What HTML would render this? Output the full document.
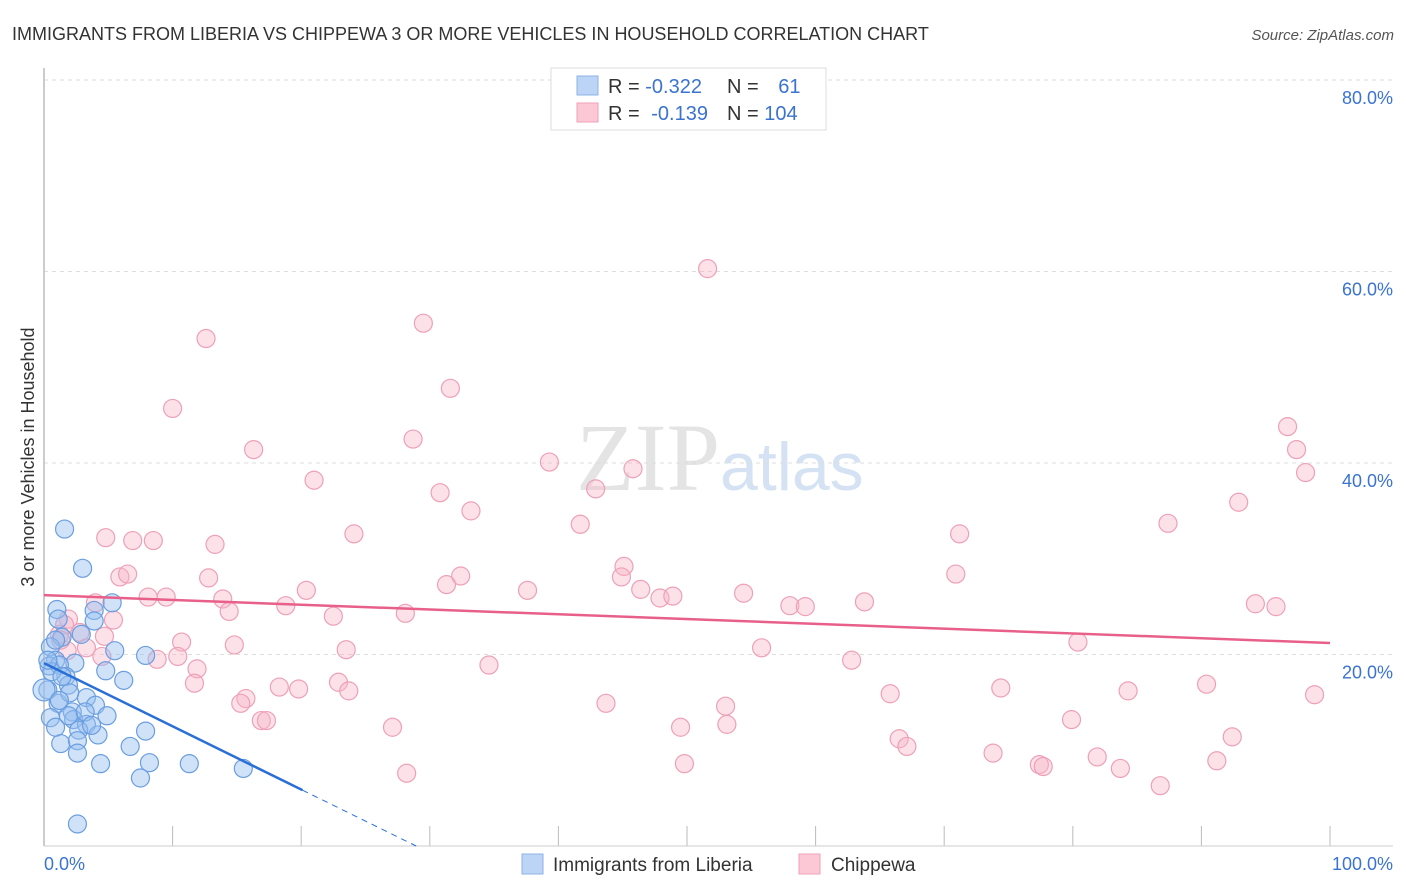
<!DOCTYPE html>
<html><head><meta charset="utf-8"><style>
body{margin:0;background:#fff;font-family:"Liberation Sans",sans-serif;}
#wrap{position:relative;width:1406px;height:892px;overflow:hidden;}
</style></head><body>
<div id="wrap">
<svg id="svg" width="1406" height="892" xmlns="http://www.w3.org/2000/svg">
<text x="12" y="40" font-size="18" fill="#333">IMMIGRANTS FROM LIBERIA VS CHIPPEWA 3 OR MORE VEHICLES IN HOUSEHOLD CORRELATION CHART</text>
<text x="1394" y="40" font-size="15" fill="#555" font-style="italic" text-anchor="end">Source: ZipAtlas.com</text>
<text x="720" y="490" font-size="96" fill="#e4e4e4" text-anchor="end" font-family="Liberation Serif,serif">ZIP</text>
<text x="720" y="490" font-size="68" fill="#d4e2f4">atlas</text>
<g id="grid"></g>
<line x1="44" y1="68" x2="44" y2="846" stroke="#bbb" stroke-width="1.5"/>
<line x1="44" y1="846" x2="1393" y2="846" stroke="#ccc"/>
<text transform="translate(34,457) rotate(-90)" font-size="18" fill="#333" text-anchor="middle">3 or more Vehicles in Household</text>
<g id="pts"></g>
<g id="trend"></g>
<text x="44" y="870" font-size="18" fill="#3a73d0">0.0%</text>
<text x="1393" y="870" font-size="18" fill="#3a73d0" text-anchor="end">100.0%</text>
<g>
<rect x="551" y="68" width="275" height="62" fill="#fff" stroke="#ddd"/>
<rect x="577" y="76" width="21" height="19" fill="#bcd4f6" stroke="#8fb2e6"/>
<rect x="577" y="103" width="21" height="19" fill="#fcc8d6" stroke="#f0a0b8"/>
<text x="608" y="93" font-size="20" fill="#333">R = <tspan fill="#3a73d0">-0.322</tspan></text>
<text x="727" y="93" font-size="20" fill="#333">N = <tspan fill="#3a73d0" dx="14">61</tspan></text>
<text x="608" y="120" font-size="20" fill="#333">R = <tspan fill="#3a73d0" dx="6">-0.139</tspan></text>
<text x="727" y="120" font-size="20" fill="#333">N = <tspan fill="#3a73d0">104</tspan></text>
</g>
<g>
<rect x="522" y="854" width="21" height="20" fill="#bcd4f6" stroke="#8fb2e6"/>
<text x="553" y="871" font-size="19" fill="#333">Immigrants from Liberia</text>
<rect x="799" y="854" width="21" height="20" fill="#fcc8d6" stroke="#f0a0b8"/>
<text x="831" y="871" font-size="19" fill="#333">Chippewa</text>
</g>
</svg>
</div>
<script>
const yTicks=[20,40,60,80];
const yTickLabels=["20.0%","40.0%","60.0%","80.0%"];
const xTicks=[10,20,30,40,50,60,70,80,90,100];
const blueX=[1.6,3.0,1.0,5.3,3.9,1.1,3.9,2.9,1.4,0.5,5.5,7.9,0.9,2.4,0.4,1.2,4.8,1.7,6.2,1.9,0.3,3.3,1.1,4.0,2.2,4.9,0.5,2.3,1.9,3.3,2.7,4.2,7.9,1.3,2.6,6.7,2.6,4.4,8.2,11.3,15.5,7.5,2.6,0.0,0.6,0.3,0.9,1.4,2.0,3.2,1.2,3.7,0.9];
const blueY=[33.1,29.0,24.7,25.4,24.6,23.7,23.5,22.1,21.8,20.8,20.4,19.9,19.4,19.1,18.8,18.9,18.3,17.7,17.3,16.8,16.3,15.5,14.9,14.7,14.0,13.6,13.4,13.2,13.6,12.7,12.1,11.6,12.0,10.7,11.0,10.4,9.7,8.6,8.7,8.6,8.1,7.1,2.3,16.3,18.2,19.4,21.5,17.7,16.0,14.0,15.2,12.6,12.4];
const pinkX=[51.6,29.5,12.6,31.6,10.0,16.3,28.7,39.3,45.8,21.0,30.8,33.2,42.9,96.7,97.4,98.1,92.9,87.4,71.2,41.7,24.1,4.8,6.9,8.5,13.3,45.1,44.9,5.9,6.5,12.8,32.4,31.3,20.4,37.6,46.4,54.4,70.9,47.9,48.9,8.1,9.5,13.9,4.0,18.8,14.4,28.1,22.5,58.0,59.2,63.8,94.2,95.8,5.4,1.9,2.8,1.2,4.7,10.7,14.8,23.5,55.8,80.4,1.8,3.3,4.5,8.8,10.4,11.9,34.6,62.8,22.9,11.7,18.3,19.8,23.7,65.8,74.4,84.3,90.4,98.8,15.7,15.3,43.7,53.0,16.9,17.3,27.1,49.5,53.1,79.9,66.5,67.1,92.4,73.8,81.9,83.7,77.4,77.7,49.8,28.2,91.2,86.8,1.6,1.3];
const pinkY=[60.3,54.6,53.0,47.8,45.7,41.4,42.5,40.1,39.4,38.2,36.9,35.0,37.3,43.8,41.4,39.0,35.9,33.7,32.6,33.6,32.6,32.2,31.9,31.9,31.5,29.2,28.1,28.1,28.4,28.0,28.2,27.3,26.7,26.7,26.8,26.4,28.4,25.9,26.1,26.0,26.0,25.8,25.4,25.1,24.5,24.3,24.0,25.1,25.0,25.5,25.3,25.0,23.6,23.7,22.3,22.1,21.9,21.3,21.0,20.5,20.7,21.3,20.4,20.7,19.8,19.5,19.8,18.5,18.9,19.4,17.1,17.0,16.6,16.4,16.2,15.9,16.5,16.2,16.9,15.8,15.4,14.9,14.9,14.6,13.1,13.1,12.4,12.4,12.7,13.2,11.2,10.4,11.4,9.7,9.3,8.1,8.5,8.3,8.6,7.6,8.9,6.3,23.1,21.5];
const blueTrend=[19.1,-0.66];   // intercept %, slope per %
const pinkTrend=[26.2,-0.05];
const NS="http://www.w3.org/2000/svg";
const X0=44,X1=1330,Y0=846,Y80=80;
function sx(v){return X0+(X1-X0)*v/100;}
function sy(v){return Y0-(Y0-Y80)*v/80;}
function mk(tag,attrs,parent){const e=document.createElementNS(NS,tag);for(const k in attrs)e.setAttribute(k,attrs[k]);parent.appendChild(e);return e;}
const grid=document.getElementById('grid');
yTicks.forEach((t,i)=>{
 const l=mk('line',{x1:44,x2:1393,y1:sy(t),y2:sy(t),stroke:'#ddd','stroke-dasharray':'4,4'},grid);
 
 
 const tx=mk('text',{x:1393,y:sy(t)+24,'font-size':18,fill:'#3a73d0','text-anchor':'end'},grid);
 tx.textContent=yTickLabels[i];
 
 
});
xTicks.forEach(t=>{
 const l=mk('line',{x1:sx(t),x2:sx(t),y1:826,y2:846,stroke:'#bbb'},grid);
 
 
});
const pts=document.getElementById('pts');
pinkX.forEach((x,i)=>{
 const c=mk('circle',{cx:sx(x),cy:sy(pinkY[i]),r:9,fill:'rgba(248,180,200,0.4)',stroke:'#eea0b8','stroke-width':1.2},pts);
 
 
});
blueX.forEach((x,i)=>{
 const c=mk('circle',{cx:sx(x),cy:sy(blueY[i]),r:i==43?11:9,fill:'rgba(150,190,240,0.45)',stroke:'#6a9ee0','stroke-width':1.2},pts);
 
 
});
const tr=document.getElementById('trend');
let l=mk('line',{x1:sx(0),y1:sy(pinkTrend[0]),x2:sx(100),y2:sy(pinkTrend[0]+pinkTrend[1]*100),stroke:'#e8608a','stroke-width':2.5},tr);


const xe=20.1, xz=-blueTrend[0]/blueTrend[1];
l=mk('line',{x1:sx(0),y1:sy(blueTrend[0]),x2:sx(xe),y2:sy(blueTrend[0]+blueTrend[1]*xe),stroke:'#2a6fd6','stroke-width':2.5},tr);


l=mk('line',{x1:sx(xe),y1:sy(blueTrend[0]+blueTrend[1]*xe),x2:sx(xz),y2:sy(0),stroke:'#2a6fd6','stroke-width':1,'stroke-dasharray':'6,5'},tr);


</script>
</body></html>
